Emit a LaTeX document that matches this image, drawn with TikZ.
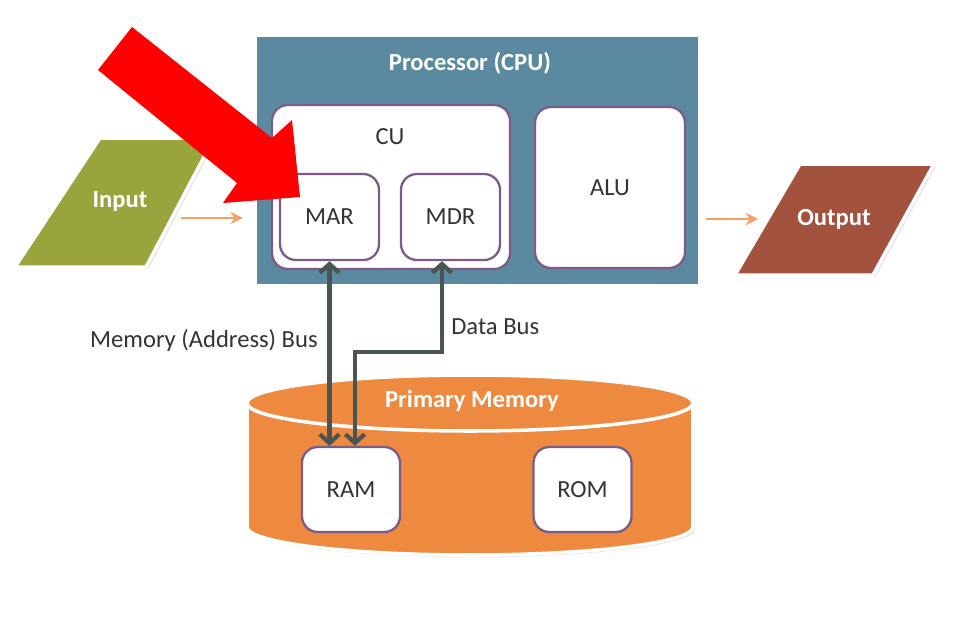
\documentclass[tikz,border=0pt]{standalone}
\usepackage{fontspec}
\setmainfont{Carlito}
\usetikzlibrary{arrows.meta,shadows}
\definecolor{cpublue}{HTML}{5B8AA0}
\definecolor{boxpurple}{HTML}{7B5B88}
\definecolor{inputgreen}{HTML}{9AA43C}
\definecolor{outputbrown}{HTML}{A3523E}
\definecolor{memorange}{HTML}{EE8A3F}
\definecolor{busgray}{HTML}{4A5450}
\definecolor{feedorange}{HTML}{F4A060}
\definecolor{textdark}{HTML}{333333}
\begin{document}
\begin{tikzpicture}[x=0.02cm,y=-0.02cm,
  font=\fontsize{14}{16}\selectfont,
  softshadow/.style={drop shadow={shadow xshift=1.2pt,shadow yshift=-1.2pt,opacity=0.25,fill=gray}},
  cpubox/.style={rectangle, fill=cpublue, draw=white, line width=2.5pt, softshadow},
  box/.style={rectangle, draw=boxpurple, line width=1.3pt, fill=white, rounded corners=9pt, text=textdark},
  lbl/.style={text=textdark, inner sep=0pt},
  title/.style={text=white, font=\fontsize{14}{16}\selectfont\bfseries, inner sep=0pt},
  shapefill/.style={draw=white, line width=2pt, softshadow},
  feed/.style={draw=feedorange, line width=1.2pt, -{Stealth[length=7pt,width=7pt]}},
  bus/.style={draw=busgray, line width=2.4pt, {Straight Barb[length=5pt,width=11pt]}-{Straight Barb[length=5pt,width=11pt]}}
]
\useasboundingbox (0,0) rectangle (954,630);

% Processor
\node[cpubox, minimum width=8.9cm, minimum height=5.02cm] (cpu) at (477.5,160.5) {};
\node[title] (cputitle) at (470,63) {Processor (CPU)};
\node[box, minimum width=4.76cm, minimum height=3.28cm] (cu) at (391,187) {};
\node[lbl] (cutext) at (390,137) {CU};
\node[box, minimum width=1.98cm, minimum height=1.72cm] (mar) at (329.5,217) {MAR};
\node[box, minimum width=1.98cm, minimum height=1.72cm] (mdr) at (450.5,217) {MDR};
\node[box, minimum width=3.0cm, minimum height=3.22cm] (alu) at (610,187.5) {ALU};

% Input
\fill[inputgreen, shapefill] (100,138) -- (214,138) -- (146,267) -- (15,267) -- cycle;
\node[title] (input) at (120,201) {Input};
\coordinate (inR) at (181,218);
\draw[feed, shorten >=0.2cm] (inR) -- (inR -| cpu.west);

% Output
\fill[outputbrown, shapefill] (800,164) -- (934,164) -- (873,275) -- (735,275) -- cycle;
\node[title] (output) at (834,219) {Output};
\coordinate (outL) at (758,219);
\draw[feed, shorten <=0.08cm] (outL -| cpu.east) -- (outL);

% Primary memory cylinder
\fill[memorange, softshadow] (247,403) -- (247,527)
  arc[start angle=180, end angle=360, x radius=4.46cm, y radius=0.56cm]
  -- (693,403)
  arc[start angle=0, end angle=180, x radius=4.46cm, y radius=0.56cm] -- cycle;
\draw[white, line width=2pt] (247,403) -- (247,527)
  arc[start angle=180, end angle=360, x radius=4.46cm, y radius=0.56cm]
  -- (693,403)
  arc[start angle=0, end angle=180, x radius=4.46cm, y radius=0.56cm];
\draw[white, line width=2pt] (247,403)
  arc[start angle=180, end angle=360, x radius=4.46cm, y radius=0.56cm];
\node[title] (memtitle) at (472,401) {Primary Memory};
\node[box, minimum width=1.96cm, minimum height=1.7cm] (ram) at (351,489.5) {RAM};
\node[box, minimum width=1.96cm, minimum height=1.7cm] (rom) at (582.5,489.5) {ROM};

% Buses
\draw[bus] (mar.south) -- (mar.south |- ram.north);
\coordinate (db1) at (442,352);
\coordinate (db2) at (355,352);
\draw[bus] (db1 |- mdr.south) -- (db1) -- (db2) -- (db2 |- ram.north);
\node[lbl, anchor=east] (addrlbl) at (318,340) {Memory (Address) Bus};
\node[lbl, anchor=west] (datalbl) at (451,327) {Data Bus};

% Red pointer arrow
\fill[red] (132,27) -- (272,138) -- (292,120) -- (300,197) -- (223,203) -- (237,183) -- (98,70) -- cycle;
\end{tikzpicture}
\end{document}
